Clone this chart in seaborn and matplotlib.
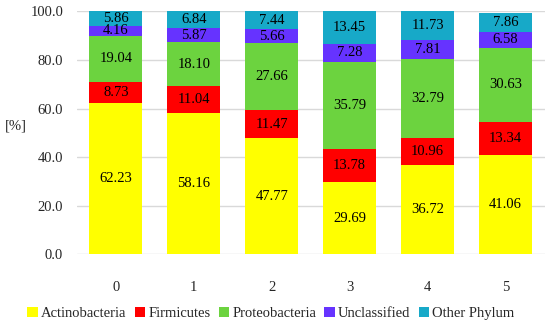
import matplotlib
matplotlib.use("Agg")
import matplotlib.pyplot as plt
import numpy as np
import pandas as pd
import seaborn as sns

# Data
samples = ["0", "1", "2", "3", "4", "5"]
actinobacteria = [62.23, 58.16, 47.77, 29.69, 36.72, 41.06]
firmicutes = [8.73, 11.04, 11.47, 13.78, 10.96, 13.34]
proteobacteria = [19.04, 18.10, 27.66, 35.79, 32.79, 30.63]
unclassified = [4.16, 5.87, 5.66, 7.28, 7.81, 6.58]
other_phylum = [5.86, 6.84, 7.44, 13.45, 11.73, 7.86]

series_names = ["Actinobacteria", "Firmicutes", "Proteobacteria", "Unclassified", "Other Phylum"]
series_values = [actinobacteria, firmicutes, proteobacteria, unclassified, other_phylum]
colors = ["#FFFF00", "#FF0000", "#6CD33F", "#6633FF", "#17A9C8"]

sns.set_style("white")
plt.rcParams['font.family'] = ['Liberation Serif', 'DejaVu Serif']

fig, ax = plt.subplots(figsize=(5.5, 3.26), dpi=100)

bottom = np.zeros(len(samples))
for name, vals, col in zip(series_names, series_values, colors):
    df = pd.DataFrame({"sample": samples, "value": vals})
    sns.barplot(data=df, x="sample", y="value", color=col, bottom=bottom,
                width=0.68, label=name, ax=ax, zorder=3, saturation=1,
                edgecolor="none", linewidth=0)
    for i, v in enumerate(vals):
        ax.text(i, bottom[i] + v / 2, f"{v:.2f}", ha="center", va="center",
                fontsize=10.5, color="black", zorder=4)
    bottom = bottom + np.array(vals)

ax.set_ylim(0, 100)
ax.set_yticks(np.arange(0, 101, 20))
ax.set_yticklabels([f"{t:.1f}" for t in np.arange(0, 101, 20)], fontsize=10.5)
ax.tick_params(axis="x", labelsize=10.5, length=0, pad=19)
ax.tick_params(axis="y", length=0, pad=10)
ax.yaxis.grid(True, color="#d9d9d9", linewidth=1, zorder=0)
ax.set_xlabel("")
ax.set_ylabel("[%]", rotation=0, fontsize=10.5)
ax.yaxis.set_label_coords(-0.13, 0.5)
for s in ax.spines.values():
    s.set_visible(False)

ax.legend(loc="center", bbox_to_anchor=(0.415, -0.245), ncol=5, frameon=False,
          prop={"family": ["Liberation Serif"], "size": 10.5},
          handlelength=0.7, handleheight=0.7, handletextpad=0.25,
          columnspacing=0.55)

fig.subplots_adjust(left=0.14, right=0.99, top=0.965, bottom=0.22)
fig.savefig("out.png", dpi=100)
